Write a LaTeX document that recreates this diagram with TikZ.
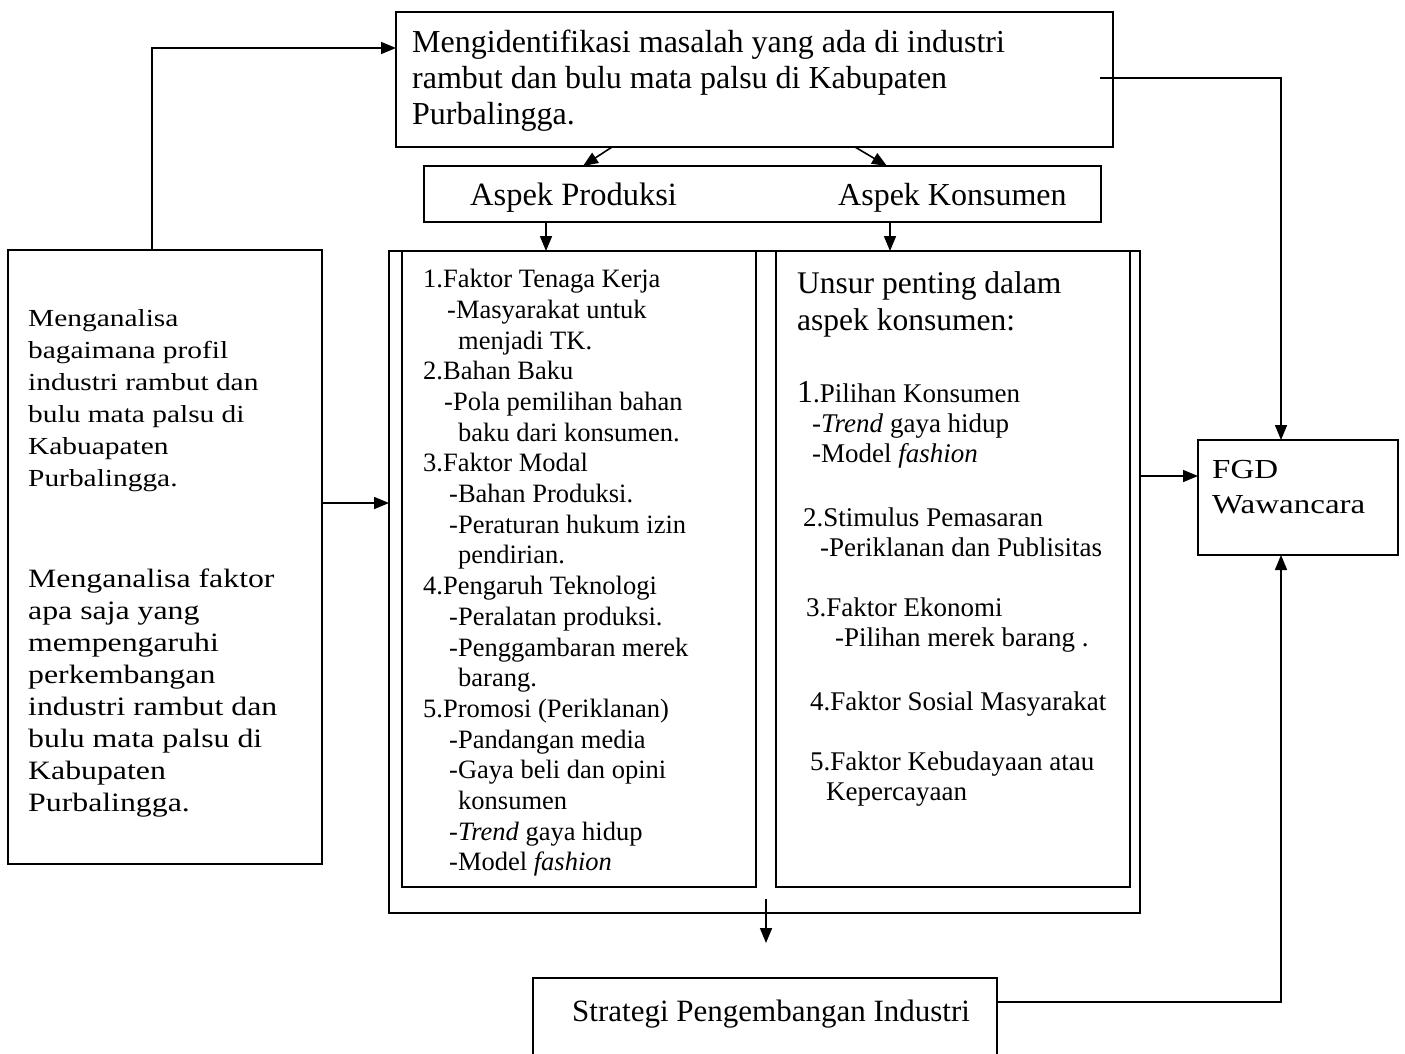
\documentclass[tikz,border=0pt]{standalone}
\usepackage{fontspec}
\setmainfont{Liberation Serif}
\newfontfamily\widefont[FakeStretch=1.2]{Liberation Serif}
\usetikzlibrary{arrows.meta}
\newcommand{\fsz}[2]{\fontsize{#1}{#2}\selectfont}

\begin{document}
\begin{tikzpicture}[x=1pt,y=-1pt,
		box/.style={draw, line width=1.6pt, anchor=north west, inner sep=0pt, outer sep=0pt},
		txt/.style={anchor=base west, align=left, inner sep=0pt},
		mtxt/.style={anchor=north west, align=left, inner sep=0pt},
		arr/.style={line width=1.6pt, -{Triangle[length=15pt,width=12pt]}}]
			%%%%% START %%%%%
			\useasboundingbox (0,0) rectangle (1405,1053);
			
			\node[box, minimum width=717pt, minimum height=135pt] (ident) at (396,12) {};
			\node[mtxt, font=\fsz{32}{36}] (identtxt) at (412,30) {Mengidentifikasi masalah yang ada di industri\\rambut dan bulu mata palsu di Kabupaten\\Purbalingga.};
			
			\node[box, minimum width=677pt, minimum height=56pt] (aspek) at (424,166) {};
			\node[txt, font=\fsz{32.5}{36}] (prod) at (470,205) {Aspek Produksi};
			\node[txt, font=\fsz{32}{36}] (kons) at (838,205) {Aspek Konsumen};
			
			\node[box, minimum width=314pt, minimum height=614pt] (anal) at (8,250) {};
			\node[mtxt, font=\widefont\fsz{24.5}{32}] (profil) at (28,309) {Menganalisa\\bagaimana profil\\industri rambut dan\\bulu mata palsu di\\Kabuapaten\\Purbalingga.};
			\node[mtxt, font=\widefont\fsz{26.5}{32}] (faktor) at (28,569) {Menganalisa faktor\\apa saja yang\\mempengaruhi\\perkembangan\\industri rambut dan\\bulu mata palsu di\\Kabupaten\\Purbalingga.};
			
			\node[box, minimum width=751pt, minimum height=662pt] (outer) at (389,251) {};
			\node[box, minimum width=354pt, minimum height=636pt] (prodbox) at (402,251) {};
			\node[box, minimum width=354pt, minimum height=636pt] (konsbox) at (776,251) {};
			
			\node[mtxt, font=\fsz{26.5}{30.7}] (prodlist) at (423,269) {1.Faktor Tenaga Kerja\\
				\hspace*{24pt}-Masyarakat untuk\\
				\hspace*{35pt}menjadi TK.\\
				2.Bahan Baku\\
				\hspace*{21pt}-Pola pemilihan bahan\\
				\hspace*{35pt}baku dari konsumen.\\
				3.Faktor Modal\\
				\hspace*{26pt}-Bahan Produksi.\\
				\hspace*{26pt}-Peraturan hukum izin\\
				\hspace*{35pt}pendirian.\\
				4.Pengaruh Teknologi\\
				\hspace*{26pt}-Peralatan produksi.\\
				\hspace*{26pt}-Penggambaran merek\\
				\hspace*{35pt}barang.\\
				5.Promosi (Periklanan)\\
				\hspace*{26pt}-Pandangan media\\
				\hspace*{26pt}-Gaya beli dan opini\\
				\hspace*{35pt}konsumen\\
				\hspace*{26pt}-\textit{Trend} gaya hidup\\
				\hspace*{26pt}-Model \textit{fashion}};
			
			\node[mtxt, font=\fsz{31.5}{37}] (unsur) at (797,271) {Unsur penting dalam\\aspek konsumen:};
			\node[mtxt, font=\fsz{27}{30}] (k1) at (797,381) {{\fsz{32}{30}1}.Pilihan Konsumen\\\hspace*{15pt}-\textit{Trend} gaya hidup\\\hspace*{15pt}-Model \textit{fashion}};
			\node[mtxt, font=\fsz{27}{30}] (k2) at (803,508) {2.Stimulus Pemasaran\\\hspace*{17pt}-Periklanan dan Publisitas};
			\node[mtxt, font=\fsz{27}{30}] (k3) at (806,598) {3.Faktor Ekonomi\\\hspace*{29pt}-Pilihan merek barang .};
			\node[txt, font=\fsz{27}{30}] (k4) at (810,710) {4.Faktor Sosial Masyarakat};
			\node[mtxt, font=\fsz{27}{30}] (k5) at (810,752) {5.Faktor Kebudayaan atau\\\hspace*{16pt}Kepercayaan};
			
			\node[box, minimum width=200pt, minimum height=115pt] (fgd) at (1198,440) {};
			\node[mtxt, font=\widefont\fsz{27.5}{35}] (fgdtxt) at (1212,460) {FGD\\Wawancara};
			
			\node[box, minimum width=464pt, minimum height=110pt] (strat) at (533,978) {};
			\node[txt, font=\fsz{31}{36}] (strattxt) at (572,1021) {Strategi Pengembangan Industri};
			
			\draw[arr] ([xshift=-13pt]anal.north) |- ([yshift=31.5pt]ident.west);
			\draw[arr] ([yshift=54pt]anal.east) -- ([yshift=54pt]anal.east -| outer.west);
			
			\draw[arr] ([xshift=-142.5pt]ident.south) -- ([xshift=-179.5pt]aspek.north);
			\draw[arr] ([xshift=100.5pt]ident.south) -- ([xshift=124.5pt]aspek.north);
			\draw[arr] ([xshift=-216.5pt]aspek.south) -- ([xshift=-216.5pt]aspek.south |- prodbox.north);
			\draw[arr] ([xshift=127.5pt]aspek.south) -- ([xshift=127.5pt]aspek.south |- konsbox.north);
			
			\draw[arr] ([xshift=-13pt,yshift=1.5pt]ident.east) -| ([xshift=-17pt]fgd.north);
			\draw[arr] ([yshift=106pt]outer.east) -- ([yshift=106pt]outer.east -| fgd.west);
			\draw[arr] ([yshift=31pt]strat.east) -| ([xshift=-17pt]fgd.south);
			\draw[arr] ([xshift=1.5pt,yshift=14pt]outer.south) -- ([xshift=1.5pt,yshift=-30pt]outer.south);
			
			%%%%% END %%%%%
\end{tikzpicture}
\end{document}
